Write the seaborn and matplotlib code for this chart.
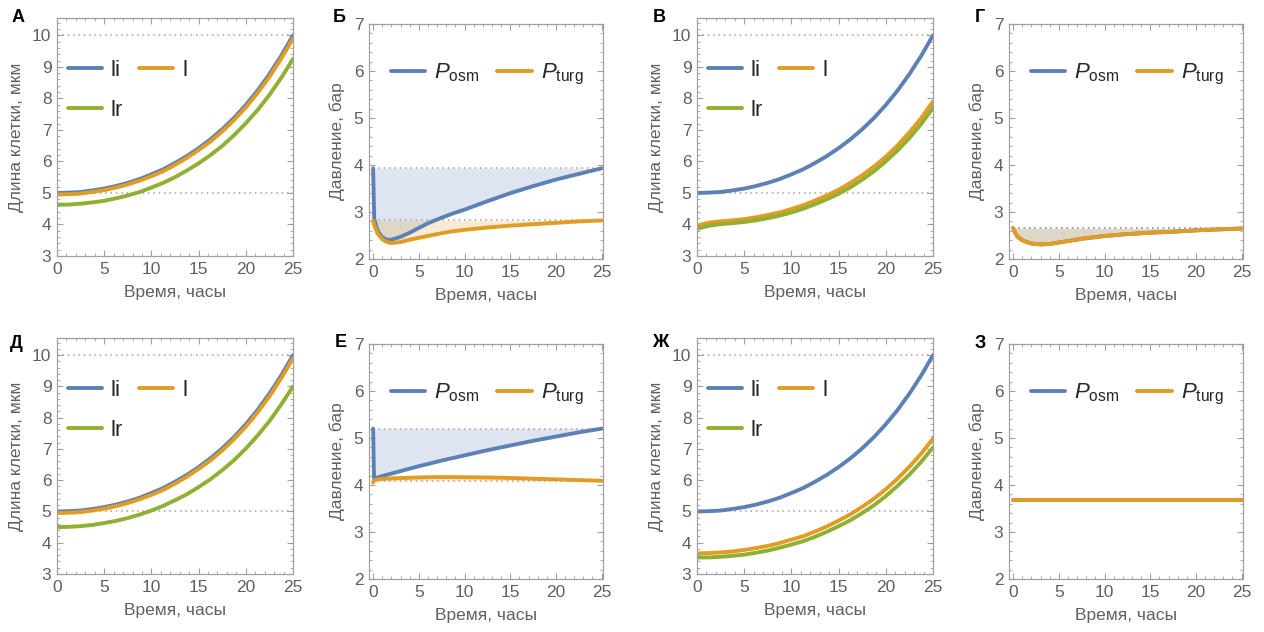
import matplotlib
matplotlib.use('Agg')
import matplotlib.pyplot as plt
import seaborn as sns
from matplotlib.ticker import MultipleLocator

# ---- cell length panels (А, В, Д, Ж) ----
t_len = [0, 1.25, 2.5, 3.75, 5, 6.25, 7.5, 8.75, 10, 11.25, 12.5, 13.75, 15,
         16.25, 17.5, 18.75, 20, 21.25, 22.5, 23.75, 25]
li_len = [5.00, 5.01, 5.03, 5.08, 5.14, 5.22, 5.32, 5.44, 5.59, 5.75, 5.95,
          6.17, 6.42, 6.70, 7.02, 7.38, 7.79, 8.25, 8.77, 9.35, 10.00]

l_A = [4.95, 4.96, 4.98, 5.03, 5.09, 5.17, 5.27, 5.39, 5.53, 5.69, 5.89,
       6.11, 6.36, 6.63, 6.95, 7.31, 7.71, 8.17, 8.68, 9.26, 9.90]
lr_A = [4.63, 4.63, 4.66, 4.70, 4.75, 4.83, 4.92, 5.03, 5.17, 5.32, 5.50,
        5.71, 5.94, 6.20, 6.49, 6.83, 7.21, 7.63, 8.11, 8.65, 9.25]

l_V = [3.96, 4.06, 4.10, 4.13, 4.17, 4.23, 4.30, 4.38, 4.49, 4.61, 4.76,
       4.92, 5.10, 5.32, 5.56, 5.84, 6.15, 6.51, 6.92, 7.38, 7.90]
lr_V = [3.86, 3.96, 4.01, 4.04, 4.08, 4.13, 4.20, 4.28, 4.38, 4.50, 4.64,
        4.80, 4.97, 5.18, 5.42, 5.69, 6.00, 6.35, 6.74, 7.19, 7.70]

l_D = [4.95, 4.96, 4.98, 5.03, 5.09, 5.17, 5.27, 5.39, 5.53, 5.69, 5.89,
       6.11, 6.36, 6.63, 6.95, 7.31, 7.71, 8.17, 8.68, 9.26, 9.90]
lr_D = [4.50, 4.51, 4.53, 4.57, 4.63, 4.70, 4.79, 4.90, 5.03, 5.18, 5.36,
        5.55, 5.78, 6.03, 6.32, 6.64, 7.01, 7.43, 7.89, 8.42, 9.00]

l_Zh = [3.66, 3.67, 3.69, 3.72, 3.77, 3.83, 3.90, 3.99, 4.10, 4.21, 4.36,
        4.52, 4.71, 4.91, 5.15, 5.41, 5.71, 6.05, 6.43, 6.85, 7.33]
lr_Zh = [3.53, 3.53, 3.55, 3.58, 3.62, 3.68, 3.75, 3.84, 3.94, 4.05, 4.19,
         4.35, 4.53, 4.72, 4.95, 5.20, 5.49, 5.82, 6.18, 6.59, 7.05]

ref_len = [5, 10]

# ---- pressure panels (Б, Г, Е, З) ----
t_B = [0, 0.12, 0.5, 1, 1.5, 2, 3, 4, 5, 6, 7.5, 8.75, 10, 12.5, 15, 17.5, 20, 22.5, 25]
posm_B = [3.93, 2.85, 2.60, 2.46, 2.41, 2.41, 2.47, 2.56, 2.66, 2.76, 2.88, 2.97, 3.05,
          3.23, 3.40, 3.55, 3.69, 3.81, 3.93]
pturg_B = [2.82, 2.72, 2.54, 2.42, 2.36, 2.34, 2.36, 2.41, 2.45, 2.49, 2.55, 2.59, 2.62,
           2.67, 2.71, 2.74, 2.77, 2.80, 2.82]
ref_B = [3.93, 2.82]

t_G = [0, 0.25, 0.5, 1, 1.5, 2, 3, 4, 5, 7.5, 10, 12.5, 15, 17.5, 20, 22.5, 25]
posm_G = [2.66, 2.55, 2.47, 2.40, 2.36, 2.33, 2.31, 2.32, 2.35, 2.43, 2.49, 2.53, 2.56, 2.58, 2.61, 2.63, 2.65]
pturg_G = [2.66, 2.55, 2.47, 2.40, 2.36, 2.33, 2.31, 2.32, 2.35, 2.43, 2.49, 2.53, 2.56, 2.58, 2.61, 2.63, 2.65]
ref_G = [2.65, 2.65]

t_E = [0, 0.1, 0.5, 1, 2.5, 5, 7.5, 10, 12.5, 15, 17.5, 20, 22.5, 25]
posm_E = [5.20, 4.14, 4.16, 4.19, 4.27, 4.40, 4.52, 4.63, 4.74, 4.84, 4.94, 5.03, 5.12, 5.20]
pturg_E = [4.05, 4.10, 4.12, 4.13, 4.145, 4.16, 4.17, 4.165, 4.16, 4.15, 4.135, 4.12, 4.105, 4.09]
ref_E = [5.20, 4.09]

t_Z = [0, 25]
posm_Z = [3.69, 3.69]
pturg_Z = [3.69, 3.69]

BLUE = '#5E81B5'
ORANGE = '#E19C24'
GREEN = '#8FB032'
FRAME = '#a0a0a0'
TEXT = '#606060'
LW = 2.8

sns.set_theme(style='white')
plt.rcParams['font.family'] = ['Liberation Sans', 'DejaVu Sans']
plt.rcParams['mathtext.fontset'] = 'custom'
plt.rcParams['mathtext.rm'] = 'Liberation Sans'
plt.rcParams['mathtext.it'] = 'Liberation Sans:italic'

W, H = 1264, 632
fig = plt.figure(figsize=(W / 100, H / 100), dpi=100)


def add_ax(l, t, r, b):
    return fig.add_axes([l / W, 1 - b / H, (r - l) / W, (b - t) / H])


def style_frame(ax, ylabel):
    for s in ax.spines.values():
        s.set_color(FRAME)
        s.set_linewidth(0.9)
    ax.xaxis.set_major_locator(MultipleLocator(5))
    ax.xaxis.set_minor_locator(MultipleLocator(1))
    ax.yaxis.set_major_locator(MultipleLocator(1))
    ax.yaxis.set_minor_locator(MultipleLocator(0.2))
    ax.tick_params(which='both', direction='in', bottom=True, left=True, top=True, right=True,
                   color=FRAME, labelcolor=TEXT, labelsize=12.5)
    ax.tick_params(which='major', length=4, width=0.8, pad=4)
    ax.tick_params(which='minor', length=2, width=0.6)
    ax.set_xlabel('Время, часы', color=TEXT, fontsize=12.5, labelpad=6)
    ax.set_ylabel(ylabel, color=TEXT, fontsize=12.5, labelpad=6)
    ax.grid(False)


def length_panel(rect, l, lr):
    ax = add_ax(*rect)
    ax.hlines(ref_len, 0, 25, colors=FRAME, linestyles=(0, (1, 2.5)), lw=1.1, zorder=1)
    h1 = sns.lineplot(x=t_len, y=li_len, ax=ax, color=BLUE, lw=LW, label='li').lines[-1]
    h2 = sns.lineplot(x=t_len, y=l, ax=ax, color=ORANGE, lw=LW, label='l').lines[-1]
    h3 = sns.lineplot(x=t_len, y=lr, ax=ax, color=GREEN, lw=LW, label='lr').lines[-1]
    ax.set_xlim(0, 25)
    ax.set_ylim(3, 10.55)
    style_frame(ax, 'Длина клетки, мкм')
    ax.legend(handles=[h1, h3, h2], labels=['li', 'lr', 'l'], ncol=2, loc='upper left',
              bbox_to_anchor=(0.045, 0.823), frameon=False, fontsize=16, borderpad=0,
              borderaxespad=0, handlelength=1.55, handletextpad=0.4, columnspacing=0.7,
              labelspacing=0.85)
    return ax


def pressure_panel(rect, t, posm, pturg, ref):
    ax = add_ax(*rect)
    if ref:
        ax.hlines(ref, 0, 25, colors=FRAME, linestyles=(0, (1, 2.5)), lw=1.1, zorder=1)
        ax.fill_between(t, posm, ref[0], color=BLUE, alpha=0.2, lw=0, zorder=0)
        ax.fill_between(t, pturg, ref[1], color=ORANGE, alpha=0.2, lw=0, zorder=0)
    h1 = sns.lineplot(x=t, y=posm, ax=ax, color=BLUE, lw=LW, label='P').lines[-1]
    h2 = sns.lineplot(x=t, y=pturg, ax=ax, color=ORANGE, lw=LW, label='T').lines[-1]
    ax.set_xlim(-0.45, 25.15)
    ax.set_ylim(2, 7)
    style_frame(ax, 'Давление, бар')
    ax.legend(handles=[h1, h2], labels=[r'$P_{\mathrm{osm}}$', r'$P_{\mathrm{turg}}$'], ncol=2,
              loc='upper left', bbox_to_anchor=(0.094, 0.841), frameon=False, fontsize=16,
              borderpad=0, borderaxespad=0, handlelength=1.55, handletextpad=0.4,
              columnspacing=0.8)
    return ax


length_panel((57, 18, 293, 256), l_A, lr_A)
pressure_panel((369, 24, 603, 259), t_B, posm_B, pturg_B, ref_B)
length_panel((697, 18, 933, 256), l_V, lr_V)
pressure_panel((1009, 24, 1243, 259), t_G, posm_G, pturg_G, ref_G)
length_panel((57, 338, 293, 574), l_D, lr_D)
pressure_panel((369, 344, 603, 579), t_E, posm_E, pturg_E, ref_E)
length_panel((697, 338, 933, 574), l_Zh, lr_Zh)
pressure_panel((1009, 344, 1243, 579), t_Z, posm_Z, pturg_Z, None)

letters = [('А', 12, 22), ('Б', 333, 22), ('В', 653, 22), ('Г', 975, 22),
           ('Д', 10, 348), ('Е', 335, 347), ('Ж', 652, 347), ('З', 975, 348)]
for txt, x, y in letters:
    fig.text(x / W, 1 - y / H, txt, fontsize=13, fontweight='bold', color='black',
             ha='left', va='baseline')

fig.savefig('out.png', dpi=100)
